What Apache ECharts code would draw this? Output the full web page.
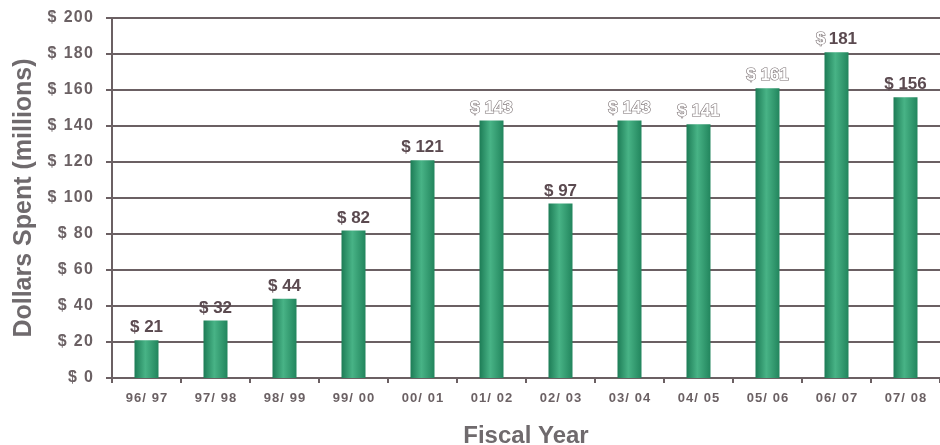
<!DOCTYPE html>
<html>
<head>
<meta charset="utf-8">
<script src="https://cdn.jsdelivr.net/npm/echarts@6/dist/echarts.min.js"></script>
<style>
html,body{margin:0;padding:0;background:#fff;}
#chart{width:940px;height:445px;}
</style>
</head>
<body>
<div id="chart"></div>
<script>
const categories = ['96/ 97','97/ 98','98/ 99','99/ 00','00/ 01','01/ 02','02/ 03','03/ 04','04/ 05','05/ 06','06/ 07','07/ 08'];
const values = [21, 32, 44, 82, 121, 143, 97, 143, 141, 161, 181, 156];
// label style as printed: 'n' normal, 'g' ghosted (outlined), 'd' ghosted dollar sign only
const labelStyles = ['n','n','n','n','n','g','n','g','g','g','d','n'];
const yTickLabels = ['$ 0','$ 20','$ 40','$ 60','$ 80','$ 100','$ 120','$ 140','$ 160','$ 180','$ 200'];

const HS = '\u200A';
const spaced = (s) => s.split('').join(HS);

const chart = echarts.init(document.getElementById('chart'));
const axisColor = '#6b6063';
const FONT = 'Liberation Sans, Arial, sans-serif';
const barGrad = new echarts.graphic.LinearGradient(0, 0, 1, 0, [
  {offset: 0, color: '#1d7c56'},
  {offset: 0.45, color: '#48b386'},
  {offset: 1, color: '#22855d'}
]);

const normalRich = {color: '#5b4a50', fontFamily: FONT, fontWeight: 'bold', fontSize: 17};
const ghostRich = {color: '#ffffff', textBorderColor: '#7a7072', textBorderWidth: 1.2, fontFamily: FONT, fontWeight: 'bold', fontSize: 17};

const data = values.map((v) => ({value: v}));

chart.setOption({
  animation: false,
  backgroundColor: '#ffffff',
  grid: {left: 112, right: 0, top: 18, bottom: 67, containLabel: false, outerBoundsMode: 'none'},
  xAxis: {
    type: 'category',
    data: categories,
    name: 'Fiscal Year',
    nameLocation: 'middle',
    nameGap: 46,
    nameTextStyle: {fontFamily: FONT, fontWeight: 'bold', fontSize: 24, color: '#6f6a6d'},
    axisLine: {lineStyle: {color: axisColor, width: 2}},
    axisTick: {show: true, length: 5, lineStyle: {color: axisColor, width: 2}},
    axisLabel: {fontFamily: FONT, fontWeight: 'bold', fontSize: 13, color: '#6b6164', margin: 14,
      formatter: (v) => spaced(v)}
  },
  yAxis: {
    type: 'value',
    min: 0, max: 200, interval: 20,
    name: 'Dollars Spent (millions)',
    nameLocation: 'middle',
    nameGap: 68,
    nameTextStyle: {fontFamily: FONT, fontWeight: 'bold', fontSize: 25, color: '#6f6a6d'},
    axisLine: {show: true, lineStyle: {color: axisColor, width: 2}},
    axisTick: {show: true, length: 6, lineStyle: {color: axisColor, width: 2}},
    splitLine: {show: true, lineStyle: {color: axisColor, width: 2}},
    axisLabel: {
      fontFamily: FONT, fontWeight: 'bold', fontSize: 16, color: '#6b6164', margin: 19,
      formatter: (v) => spaced(yTickLabels[Math.round(v / 20)])
    }
  },
  series: [{
    type: 'bar',
    data: data,
    barWidth: 24,
    itemStyle: {color: barGrad},
    label: {
      show: true, position: 'top', distance: 4,
      rich: {n: normalRich, g: ghostRich},
      formatter: (p) => {
        const k = labelStyles[p.dataIndex];
        const num = String(p.value);
        if (k === 'g') return '{g|$ ' + num + '}';
        if (k === 'd') return '{g|$} {n|' + num + '}';
        return '{n|$ ' + num + '}';
      }
    }
  }]
});
</script>
</body>
</html>
